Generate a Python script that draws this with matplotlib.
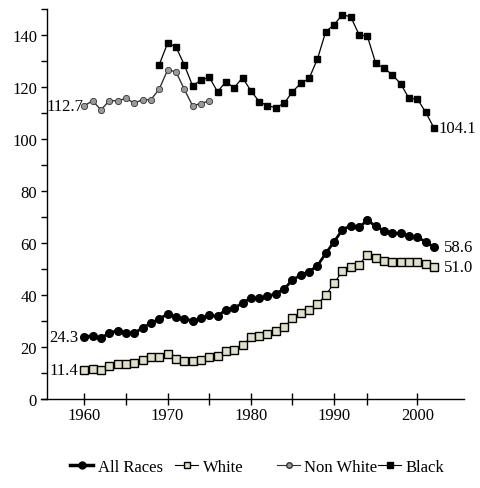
import matplotlib
matplotlib.use("Agg")
import matplotlib.pyplot as plt
from matplotlib.lines import Line2D

plt.rcParams['font.family'] = ['Liberation Serif', 'DejaVu Serif']

years = list(range(1960, 2003))
all_races = [24.0, 24.3, 23.5, 25.4, 26.3, 25.5, 25.3, 27.4, 29.2, 30.8,
             32.7, 31.5, 30.8, 30.1, 31.0, 32.2, 31.8, 34.4, 34.9, 37.0,
             38.8, 38.7, 39.5, 40.5, 42.3, 45.8, 47.7, 49.0, 51.3, 56.0,
             60.5, 65.1, 66.7, 66.0, 68.8, 66.4, 64.7, 63.8, 63.7, 62.8,
             62.2, 60.5, 58.3]
white = [11.2, 11.5, 11.2, 12.7, 13.5, 13.6, 13.8, 14.9, 16.3, 16.3,
         17.2, 15.5, 14.6, 14.5, 14.9, 16.3, 16.7, 18.3, 19.0, 20.6,
         23.7, 24.4, 25.1, 26.0, 27.6, 31.0, 33.1, 34.2, 36.4, 40.0,
         44.6, 49.1, 50.6, 51.7, 55.5, 54.2, 53.2, 52.6, 52.8, 52.6,
         52.8, 51.9, 50.9]
nonwhite_years = list(range(1960, 1976))
nonwhite = [112.8, 114.7, 111.2, 114.7, 114.7, 115.6, 113.8, 115.1, 115.1, 119.2,
            126.5, 125.9, 119.2, 112.8, 113.6, 114.7]
black_years = list(range(1969, 2003))
black = [128.6, 136.8, 135.5, 128.6, 120.5, 122.6, 123.8, 118.2, 122.0, 119.7,
         123.6, 118.6, 114.4, 112.8, 112.1, 113.7, 118.2, 121.4, 123.3, 130.8,
         141.3, 144.0, 147.8, 147.0, 140.1, 139.5, 129.1, 127.2, 124.7, 121.2,
         115.6, 115.4, 110.3, 104.2]

labels_first = {"all": "24.3", "white": "11.4", "nonwhite": "112.7"}
labels_last = {"all": "58.6", "white": "51.0", "black": "104.1"}
series_names = ['All Races', 'White', 'Non White', 'Black']

W, H = 481, 489
fig = plt.figure(figsize=(W / 100, H / 100), dpi=100)
x0 = 41 / W
ax = fig.add_axes([x0, 1 - 400 / H, 464 / W - x0, (400 - 10) / H])
ax.set_xlim(1954.8, 2005.6)
ax.set_ylim(0, 150)

beige = '#e0e0c8'
ax.plot(years, all_races, '-o', color='black', lw=2.0, ms=5.5, zorder=4)
ax.plot(years, white, '-s', color='black', lw=0.8, ms=5.5, mfc=beige, mec='black',
        mew=1.0, zorder=4)
ax.plot(nonwhite_years, nonwhite, '-o', color='#333333', lw=1.0, ms=4.5, mfc='#999999',
        mec='#333333', mew=0.6, zorder=4)
ax.plot(black_years, black, '-s', color='black', lw=0.9, ms=4.5, zorder=4)

fs = 12
ax.annotate(labels_first["all"], (years[0], all_races[0]), xytext=(-4.5, 0),
            textcoords='offset points', ha='right', va='center', fontsize=fs)
ax.annotate(labels_first["white"], (years[0], white[0]), xytext=(-4.5, 0),
            textcoords='offset points', ha='right', va='center', fontsize=fs)
ax.annotate(labels_first["nonwhite"], (nonwhite_years[0], nonwhite[0]), xytext=(-0.5, 0),
            textcoords='offset points', ha='right', va='center', fontsize=fs)
ax.annotate(labels_last["all"], (years[-1], all_races[-1]), xytext=(7, 0),
            textcoords='offset points', ha='left', va='center', fontsize=fs)
ax.annotate(labels_last["white"], (years[-1], white[-1]), xytext=(7, 0),
            textcoords='offset points', ha='left', va='center', fontsize=fs)
ax.annotate(labels_last["black"], (black_years[-1], black[-1]), xytext=(3.5, 0),
            textcoords='offset points', ha='left', va='center', fontsize=fs)

for s in ['top', 'right']:
    ax.spines[s].set_visible(False)
ax.spines['left'].set_position(('data', 1955.5))
ax.spines['left'].set_linewidth(1.0)
ax.spines['bottom'].set_linewidth(1.0)

ax.set_xticks([1960, 1970, 1980, 1990, 2000])
ax.set_xticks([1965, 1975, 1985, 1994], minor=True)
ax.set_yticks(range(0, 141, 20))
ax.set_yticks(range(10, 151, 20), minor=True)
ax.tick_params(axis='x', which='both', direction='inout', length=8, width=1.0,
               labelsize=fs, pad=2)
ax.tick_params(axis='y', which='both', direction='out', length=4, width=1.0,
               labelsize=fs, pad=3)

handles = [
    Line2D([], [], color='black', lw=2.5, marker='o', ms=5),
    Line2D([], [], color='black', lw=0.8, marker='s', ms=5, mfc=beige, mec='black'),
    Line2D([], [], color='#333333', lw=0.8, marker='o', ms=4, mfc='#999999', mec='#333333'),
    Line2D([], [], color='black', lw=0.8, marker='s', ms=4.5),
]
leg_x = [70, 175, 277, 378]
for h, name, lx in zip(handles, series_names, leg_x):
    lg = fig.legend([h], [name], loc='center left',
                    bbox_to_anchor=(lx / W, 1 - 468 / H), frameon=False, fontsize=fs,
                    handlelength=1.4, handletextpad=0.25, borderpad=0,
                    borderaxespad=0)

fig.savefig('out.png', dpi=100)
